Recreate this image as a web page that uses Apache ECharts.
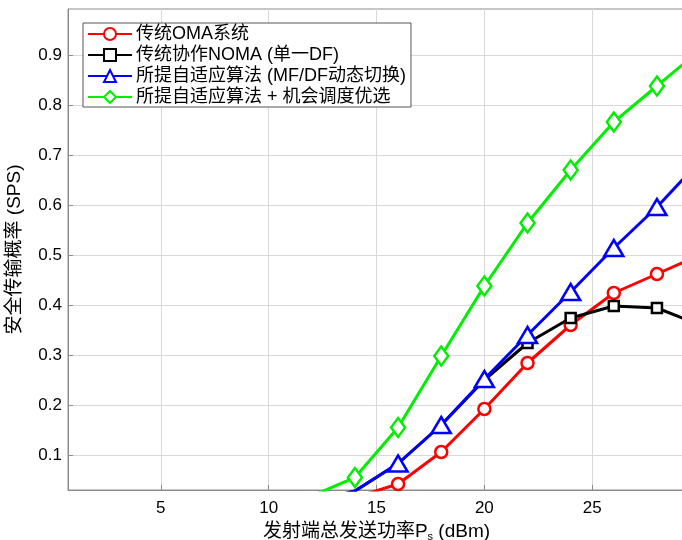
<!DOCTYPE html>
<html>
<head>
<meta charset="utf-8">
<script src="https://cdn.jsdelivr.net/npm/echarts@6/dist/echarts.min.js"></script>
<style>
  html, body { margin: 0; padding: 0; background: #fff; }
  #chart { width: 682px; height: 540px; }
</style>
</head>
<body>
<div id="chart"></div>
<script>
// 发射功率 (dBm)
const powerDbm = [10, 12, 14, 16, 18, 20, 22, 24, 26, 28, 30];

// 安全传输概率 (SPS)
const omaSps      = [0.000, 0.002, 0.015, 0.042, 0.106, 0.192, 0.284, 0.360, 0.424, 0.462, 0.500];
const nomaDfSps   = [0.000, 0.006, 0.028, 0.083, 0.160, 0.250, 0.324, 0.374, 0.398, 0.394, 0.360];
const adaptiveSps = [0.000, 0.006, 0.028, 0.083, 0.160, 0.252, 0.340, 0.426, 0.514, 0.596, 0.688];
const oppSchedSps = [0.005, 0.018, 0.055, 0.155, 0.298, 0.438, 0.564, 0.670, 0.766, 0.838, 0.910];

const seriesNames = [
    '传统OMA系统',
    '传统协作NOMA (单一DF)',
    '所提自适应算法 (MF/DF动态切换)',
    '所提自适应算法 + 机会调度优选'
];

const xTicks = [5, 10, 15, 20, 25];
const yTicks = [0.1, 0.2, 0.3, 0.4, 0.5, 0.6, 0.7, 0.8, 0.9];

const FONT = '"Liberation Sans", "Noto Sans CJK SC", sans-serif';

function pairs(ys) {
    return powerDbm.map((x, i) => [x, ys[i]]);
}

function makeSeries(name, ys, color, symbol, size) {
    return {
        name: name,
        type: 'line',
        data: pairs(ys),
        symbol: symbol,
        symbolSize: size,
        showAllSymbol: true,
        clip: true,
        lineStyle: { color: color, width: 3 },
        itemStyle: { color: '#fff', borderColor: color, borderWidth: 2.5 },
        emphasis: { disabled: true },
        animation: false
    };
}

const myChart = echarts.init(document.getElementById('chart'));

// 单一DF 曲线在低功率段被自适应算法的三角标记遮住，不画方块
const nomaSeries = makeSeries(seriesNames[1], nomaDfSps, '#000000', 'rect', 10);
nomaSeries.data = pairs(nomaDfSps).map(p => (p[0] <= 20 ? { value: p, symbol: 'none' } : p));

const option = {
    backgroundColor: '#fff',
    animation: false,
    grid: {
        left: 68, right: -3, top: 9, bottom: 50,
        outerBoundsMode: 'none',
        containLabel: false,
        show: true, borderColor: '#8c8c8c', borderWidth: 1, backgroundColor: '#fff'
    },
    legend: {
        orient: 'vertical',
        left: 83, top: 23,
        itemWidth: 44, itemHeight: 15, itemGap: 3,
        padding: [2, 5, 1, 4],
        backgroundColor: '#fff',
        borderColor: '#555', borderWidth: 1,
        textStyle: { fontFamily: FONT, fontSize: 18, lineHeight: 18, color: '#000', padding: [0, 0, 0, -1] },
        data: seriesNames
    },
    xAxis: {
        type: 'value',
        min: 0.7, max: 29.3,
        name: '{m|发射端总发送功率P}{s|s}{m| (dBm)}',
        nameLocation: 'middle',
        nameGap: 21,
        nameTextStyle: {
            rich: {
                m: { fontFamily: FONT, fontSize: 19, color: '#000' },
                s: { fontFamily: FONT, fontSize: 11, color: '#000', padding: [12, 0, 0, 0] }
            }
        },
        axisLine: { show: true, lineStyle: { color: '#8c8c8c', width: 1 } },
        axisTick: { show: true, inside: true, length: 5, customValues: xTicks, lineStyle: { color: '#8c8c8c' } },
        axisLabel: { customValues: xTicks, fontFamily: FONT, fontSize: 17, color: '#000', margin: 10 },
        splitLine: { show: true, lineStyle: { color: '#d9d9d9', width: 1 } }
    },
    yAxis: {
        type: 'value',
        min: 0.03, max: 0.992,
        name: '安全传输概率 (SPS)',
        nameLocation: 'middle',
        nameGap: 44,
        nameTextStyle: { fontFamily: FONT, fontSize: 19, color: '#000' },
        axisLine: { show: true, lineStyle: { color: '#8c8c8c', width: 1 } },
        axisTick: { show: true, inside: true, length: 5, customValues: yTicks, lineStyle: { color: '#8c8c8c' } },
        axisLabel: {
            customValues: yTicks, fontFamily: FONT, fontSize: 17, color: '#000', margin: 6,
            formatter: v => v.toFixed(1)
        },
        splitLine: { show: true, lineStyle: { color: '#d9d9d9', width: 1 } }
    },
    series: [
        makeSeries(seriesNames[0], omaSps, '#ff0000', 'circle', 12),
        nomaSeries,
        makeSeries(seriesNames[2], adaptiveSps, '#0000ff', 'triangle', [19, 16]),
        makeSeries(seriesNames[3], oppSchedSps, '#00ee00', 'diamond', [14, 19])
    ]
};

myChart.setOption(option);
</script>
</body>
</html>
